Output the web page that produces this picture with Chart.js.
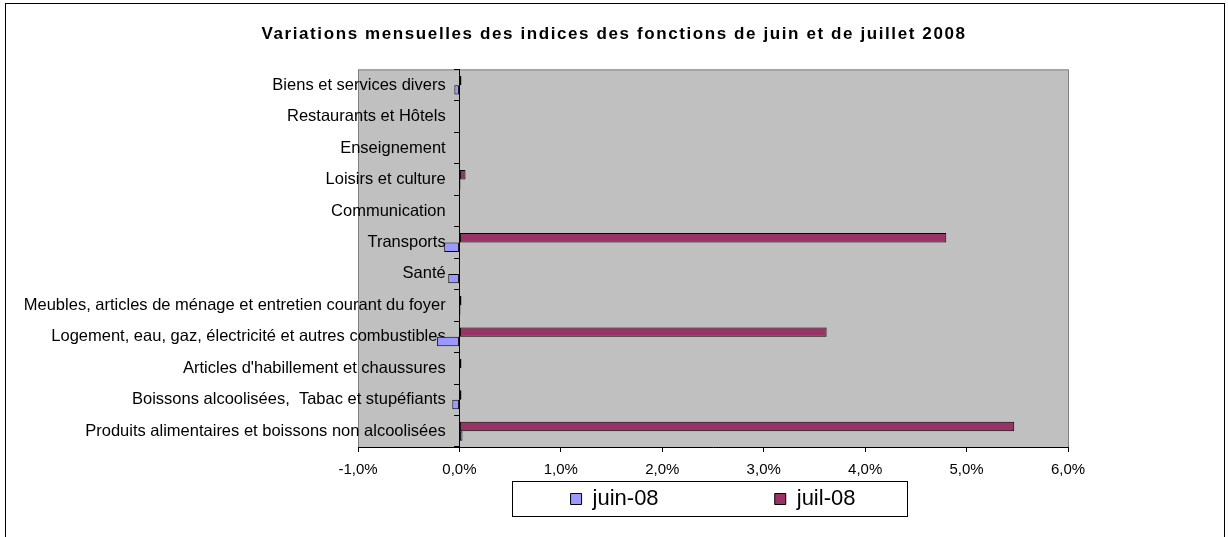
<!DOCTYPE html>
<html>
<head>
<meta charset="utf-8">
<script src="https://cdn.jsdelivr.net/npm/chart.js@4/dist/chart.umd.min.js"></script>
<style>
  html, body { margin: 0; background: #fff; }
</style>
</head>
<body>
<canvas id="chart" width="1228" height="537"></canvas>
<script>
// categories listed top to bottom as in the picture
const categories = [
  "Biens et services divers",
  "Restaurants et Hôtels",
  "Enseignement",
  "Loisirs et culture",
  "Communication",
  "Transports",
  "Santé",
  "Meubles, articles de ménage et entretien courant du foyer",
  "Logement, eau, gaz, électricité et autres combustibles",
  "Articles d'habillement et chaussures",
  "Boissons alcoolisées,  Tabac et stupéfiants",
  "Produits alimentaires et boissons non alcoolisées"
];
// monthly change, in %
const juin08 = [-0.05, 0, 0, 0.01, 0, -0.15, -0.11, 0.01, -0.22, 0, -0.07, 0.03];
const juil08 = [0.02, 0, 0, 0.06, 0, 4.80, 0, 0.02, 3.62, 0.02, 0.02, 5.47];
const xTicks = [-1, 0, 1, 2, 3, 4, 5, 6];

Chart.defaults.font.family = "'Liberation Sans', Arial, sans-serif";
Chart.defaults.color = "#000";

const fmtPct = v => v.toFixed(1).replace(".", ",") + "%";

// empty side axes only reserve room so the title stays centred on the whole frame
const spacer = (pos, w) => ({
  axis: "y", type: "linear", position: pos, display: true,
  grid: { display: false }, border: { display: false }, ticks: { display: false },
  afterFit: s => { s.width = w; }
});

const frame = {
  id: "frame",
  afterInit(chart) {
    // the original title is set quite loose
    const tb = chart.titleBlock;
    const draw = tb.draw.bind(tb);
    tb.draw = function () {
      chart.ctx.letterSpacing = "1.6px";
      draw();
      chart.ctx.letterSpacing = "0px";
    };
  },
  beforeDraw(chart) {
    const { ctx, chartArea: a } = chart;
    ctx.save();
    ctx.fillStyle = "#fff";
    ctx.fillRect(0, 0, chart.width, chart.height);
    ctx.strokeStyle = "#000";
    ctx.lineWidth = 1;
    ctx.strokeRect(5.5, 3.5, 1219, 540);
    ctx.fillStyle = "#c0c0c0";
    ctx.fillRect(a.left, a.top, a.right - a.left, a.bottom - a.top);
    ctx.strokeStyle = "#808080";
    ctx.strokeRect(a.left + 0.5, a.top + 0.5, a.right - a.left, a.bottom - a.top);
    // legend frame
    const hb = chart.legend.legendHitBoxes;
    if (hb && hb.length) {
      const last = hb[hb.length - 1];
      const l = Math.round(hb[0].left - 59), r = Math.round(last.left + last.width + 52);
      const t = Math.round(hb[0].top + hb[0].height / 2 - 18.5);
      ctx.fillStyle = "#fff";
      ctx.fillRect(l, t, r - l, 35);
      ctx.strokeStyle = "#000";
      ctx.strokeRect(l + 0.5, t + 0.5, r - l, 35);
    }
    ctx.restore();
  }
};

const chart = new Chart(document.getElementById("chart"), {
  type: "bar",
  data: {
    labels: categories,
    datasets: [
      { label: "juil-08", data: juil08, backgroundColor: "#993366" },
      { label: "juin-08", data: juin08, backgroundColor: "#9999ff" }
    ]
  },
  options: {
    indexAxis: "y",
    responsive: false,
    animation: false,
    layout: { padding: { left: 0, right: 0, top: 0, bottom: 17 } },
    datasets: {
      bar: {
        borderColor: "#000",
        borderWidth: 1,
        borderSkipped: false,
        categoryPercentage: 0.6,
        barPercentage: 1
      }
    },
    scales: {
      x: {
        type: "linear",
        position: "bottom",
        min: -1,
        max: 6,
        afterBuildTicks: s => { s.ticks = xTicks.map(v => ({ value: v })); },
        ticks: { callback: v => fmtPct(v), font: { size: 15 }, padding: 9 },
        grid: { drawOnChartArea: false, tickLength: 5, color: "#000" },
        border: { color: "#000" }
      },
      y: {
        type: "category",
        position: { x: 0 },
        ticks: {
          font: { size: 16.5 },
          autoSkip: false,
          // trailing spaces keep the label clear of the axis line
          callback(v) { return this.getLabelForValue(v) + "   "; }
        },
        grid: { offset: true, drawOnChartArea: false, tickLength: 5, color: "#000" },
        border: { color: "#000" }
      },
      padL: spacer("left", 358),
      padR: spacer("right", 160)
    },
    plugins: {
      title: {
        display: true,
        text: "Variations mensuelles des indices des fonctions de juin et de juillet 2008",
        font: { size: 17, weight: "bold" },
        padding: { top: 24, bottom: 25 }
      },
      legend: {
        position: "bottom",
        fullSize: false,
        reverse: true,
        labels: {
          font: { size: 22 },
          boxWidth: 11,
          boxHeight: 11,
          padding: 0,
          generateLabels(chart) {
            const items = Chart.defaults.plugins.legend.labels.generateLabels(chart);
            items.forEach(it => { if (it.text === "juin-08") it.text += " ".repeat(19); });
            return items;
          }
        }
      },
      tooltip: { enabled: false }
    }
  },
  plugins: [frame]
});
</script>
</body>
</html>
